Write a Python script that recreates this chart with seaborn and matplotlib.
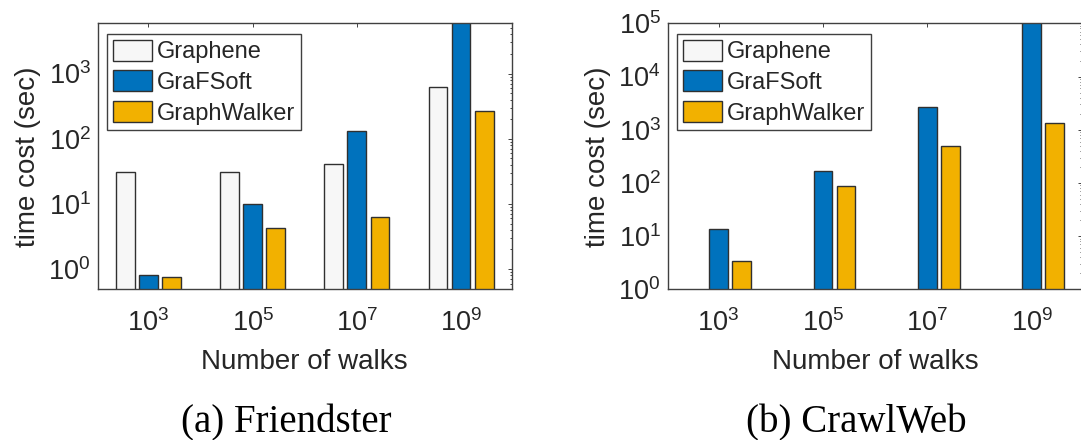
import numpy as np
import pandas as pd
import seaborn as sns
import matplotlib.pyplot as plt
from matplotlib.patches import Patch
from matplotlib.ticker import LogLocator, NullLocator, NullFormatter

# Data ----------------------------------------------------------
walks = ["1e3", "1e5", "1e7", "1e9"]
walk_labels = [r"$\mathdefault{10^{3}}$", r"$\mathdefault{10^{5}}$",
               r"$\mathdefault{10^{7}}$", r"$\mathdefault{10^{9}}$"]
methods = ["Graphene", "GraFSoft", "GraphWalker"]

friendster_graphene = [31, 31, 41, 620]
friendster_grafsoft = [0.82, 10, 130, 9000]      # last bar runs off the top
friendster_graphwalker = [0.75, 4.3, 6.2, 270]

crawlweb_grafsoft = [13.5, 165, 2650, 200000]    # last bar runs off the top
crawlweb_graphwalker = [3.4, 86, 495, 1320]

colors = {"Graphene": "#F7F7F7", "GraFSoft": "#0072BD", "GraphWalker": "#F2B100"}
ink = "#262626"

friendster_df = pd.DataFrame({
    "walks": walks * 3,
    "method": np.repeat(methods, len(walks)),
    "time": friendster_graphene + friendster_grafsoft + friendster_graphwalker,
})
crawlweb_df = pd.DataFrame({
    "walks": walks * 2,
    "method": np.repeat(methods[1:], len(walks)),
    "time": crawlweb_grafsoft + crawlweb_graphwalker,
})

# Style ----------------------------------------------------------
sns.set_style("white")
plt.rcParams["font.family"] = ["Liberation Sans", "DejaVu Sans"]
plt.rcParams["mathtext.fontset"] = "custom"
plt.rcParams["mathtext.rm"] = "Liberation Sans"
plt.rcParams["mathtext.it"] = "Liberation Sans:italic"

fig = plt.figure(figsize=(10.81, 4.40), dpi=100)
ax_f = fig.add_axes([0.0904, 0.3425, 0.383, 0.6045])
ax_c = fig.add_axes([0.6177, 0.3425, 0.3836, 0.6045])


def draw_panel(ax, df, ylim):
    sns.barplot(data=df, x="walks", y="time", hue="method", order=walks,
                hue_order=methods, palette=colors, saturation=1, width=0.666,
                gap=0.19, edgecolor="#303030", linewidth=1.0, errorbar=None,
                legend=False, ax=ax)
    ax.set_yscale("log")
    ax.set_ylim(*ylim)
    ax.set_xlim(-0.487, 3.487)
    ax.set_xticks(range(len(walks)))
    ax.set_xticklabels(walk_labels)
    ax.yaxis.set_major_locator(LogLocator(base=10, numticks=10))
    ax.yaxis.set_minor_locator(LogLocator(base=10, subs=np.arange(2, 10), numticks=10))
    ax.yaxis.set_minor_formatter(NullFormatter())
    ax.xaxis.set_minor_locator(NullLocator())
    ax.tick_params(which="both", direction="in", top=True, right=True,
                   colors=ink, labelcolor=ink, width=0.6)
    ax.tick_params(which="major", length=3.2, labelsize=19.5)
    ax.tick_params(which="minor", length=1.8)
    ax.tick_params(axis="x", pad=14)
    ax.tick_params(axis="y", pad=5)
    for side in ax.spines.values():
        side.set_visible(True)
        side.set_color("#404040")
        side.set_linewidth(1.0)

    ax.set_ylabel("time cost (sec)", fontsize=20, color=ink)
    ax.yaxis.label.set_va("center")
    ax.yaxis.set_label_coords(-0.168, 0.5)
    ax.set_xlabel("Number of walks", fontsize=20, color=ink)
    ax.xaxis.label.set_va("baseline")
    ax.xaxis.set_label_coords(0.5, -0.301)

    handles = [Patch(facecolor=colors[m], edgecolor="#303030", linewidth=1.0, label=m)
               for m in methods]
    leg = ax.legend(handles=handles, loc="upper left", bbox_to_anchor=(0.023, 0.96),
                    borderaxespad=0, fontsize=17, frameon=True, fancybox=False,
                    framealpha=1, edgecolor="#404040", handlelength=1.65,
                    handleheight=0.98, handletextpad=0.2, labelspacing=0.3,
                    borderpad=0.25)
    leg.get_frame().set_linewidth(1.0)
    for t in leg.get_texts():
        t.set_color(ink)


draw_panel(ax_f, friendster_df, (0.49, 5900))
draw_panel(ax_c, crawlweb_df, (1, 1e5))

fig.text(0.2652, 0.0166, "(a) Friendster", family=["Liberation Serif", "DejaVu Serif"],
         fontsize=28, ha="center", va="baseline", color="black")
fig.text(0.7917, 0.0166, "(b) CrawlWeb", family=["Liberation Serif", "DejaVu Serif"],
         fontsize=28, ha="center", va="baseline", color="black")

fig.savefig("out.png", dpi=100)
